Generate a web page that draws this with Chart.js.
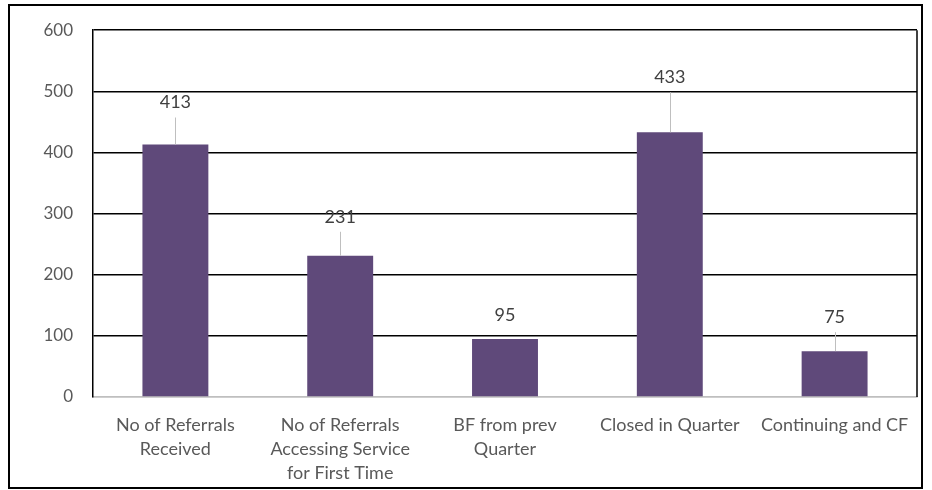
<!DOCTYPE html>
<html>
<head>
<meta charset="utf-8">
<script src="https://cdn.jsdelivr.net/npm/chart.js@4"></script>
<style>
    html, body { margin: 0; padding: 0; background: #fff; }
    #wrap { position: relative; width: 932px; height: 490px; }
</style>
</head>
<body>
<div id="wrap"><canvas id="referralChart"></canvas></div>
<script>
const categories = [
    ['No of Referrals', 'Received'],
    ['No of Referrals', 'Accessing Service', 'for First Time'],
    ['BF from prev', 'Quarter'],
    'Closed in Quarter',
    'Continuing and CF'
];
const counts = [413, 231, 95, 433, 75];
const yTicks = [0, 100, 200, 300, 400, 500, 600];

// how far each value label sits above its bar (px)
const labelLift = [42, 39, 24, 55, 34];

const fontFamily = 'Lato, "Open Sans", sans-serif';

// frame round the whole chart plus the plot's right edge
const framePlugin = {
    id: 'frame',
    afterDraw(chart) {
        const ctx = chart.ctx;
        const area = chart.chartArea;
        ctx.save();
        ctx.strokeStyle = '#000';
        ctx.lineWidth = 1.5;
        ctx.beginPath();
        ctx.moveTo(area.right, area.top);
        ctx.lineTo(area.right, area.bottom);
        ctx.stroke();
        ctx.lineWidth = 2;
        ctx.strokeRect(9, 5, 913, 483);
        ctx.restore();
    }
};

// value labels with leader lines
const valueLabels = {
    id: 'valueLabels',
    afterDatasetsDraw(chart) {
        const ctx = chart.ctx;
        const meta = chart.getDatasetMeta(0);
        ctx.save();
        ctx.font = '18px ' + fontFamily;
        ctx.fillStyle = '#404040';
        ctx.textAlign = 'center';
        ctx.textBaseline = 'middle';
        meta.data.forEach((bar, i) => {
            const lift = labelLift[i];
            const cy = bar.y - lift;
            if (lift > 30) {
                ctx.strokeStyle = '#bfbfbf';
                ctx.lineWidth = 1;
                ctx.beginPath();
                ctx.moveTo(Math.round(bar.x) + 0.5, cy + 15);
                ctx.lineTo(Math.round(bar.x) + 0.5, bar.y);
                ctx.stroke();
            }
            ctx.fillText(String(counts[i]), bar.x, cy);
        });
        ctx.restore();
    }
};

const ctx = document.getElementById('referralChart').getContext('2d');
new Chart(ctx, {
    type: 'bar',
    data: {
        labels: categories,
        datasets: [{
            data: counts,
            backgroundColor: '#5F497A',
            categoryPercentage: 1,
            barPercentage: 0.4
        }]
    },
    options: {
        responsive: true,
        maintainAspectRatio: false,
        animation: false,
        layout: { padding: { left: 0, top: 28, right: 15, bottom: 0 } },
        plugins: {
            legend: { display: false },
            tooltip: { enabled: false }
        },
        scales: {
            x: {
                grid: { display: false, drawTicks: false },
                border: { color: '#bfbfbf', width: 1.5 },
                ticks: {
                    color: '#595959',
                    padding: 16,
                    maxRotation: 0,
                    autoSkip: false,
                    font: { family: fontFamily, size: 18, lineHeight: 1.33 }
                },
                afterFit(scale) { scale.height = 93; }
            },
            y: {
                min: 0,
                max: 600,
                afterBuildTicks(scale) {
                    scale.ticks = yTicks.map(v => ({ value: v }));
                },
                grid: {
                    drawTicks: false,
                    lineWidth: 1.5,
                    color: c => c.tick && c.tick.value === 0 ? '#bfbfbf' : '#000'
                },
                border: { color: '#000', width: 1.5 },
                ticks: {
                    color: '#595959',
                    padding: 20,
                    font: { family: fontFamily, size: 17 }
                },
                afterFit(scale) { scale.width = 93; }
            }
        }
    },
    plugins: [framePlugin, valueLabels]
});
</script>
</body>
</html>
